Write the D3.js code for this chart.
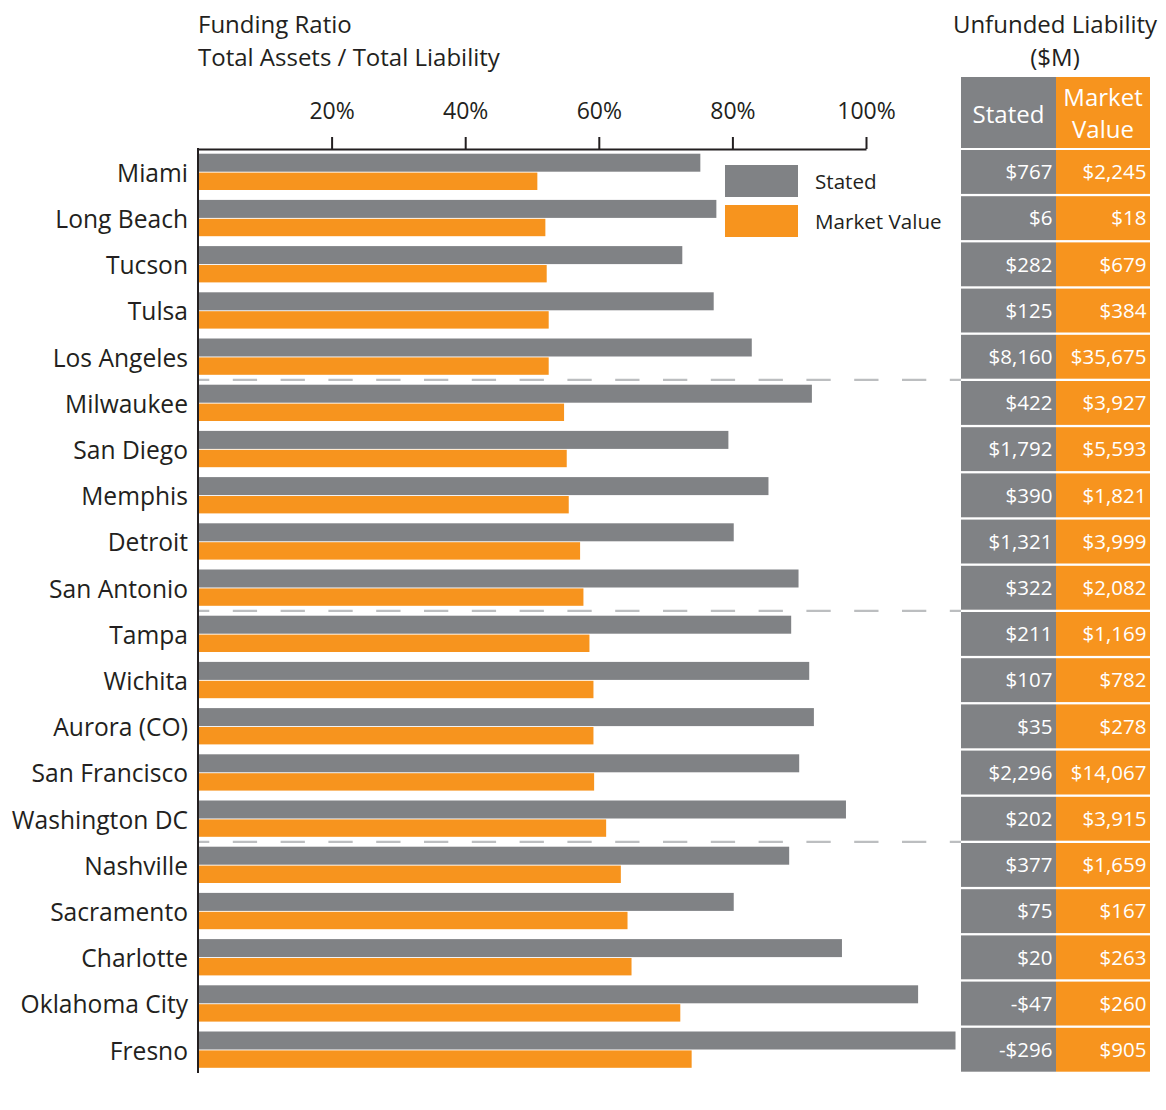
<!DOCTYPE html>
<html>
<head>
<meta charset="utf-8">
<script src="https://cdn.jsdelivr.net/npm/d3@7"></script>
<style>
  html, body { margin: 0; padding: 0; background: #fff; }
  svg { display: block; font-family: "Open Sans", "Noto Sans", sans-serif; }
</style>
</head>
<body>
<svg id="chart" width="1166" height="1110"></svg>
<script>
const cities = ["Miami","Long Beach","Tucson","Tulsa","Los Angeles","Milwaukee","San Diego","Memphis","Detroit","San Antonio","Tampa","Wichita","Aurora (CO)","San Francisco","Washington DC","Nashville","Sacramento","Charlotte","Oklahoma City","Fresno"];
const statedRatio = [75.2,77.6,72.5,77.2,82.9,91.9,79.4,85.4,80.2,89.9,88.8,91.5,92.2,90.0,97.0,88.5,80.2,96.4,107.8,113.4];
const marketRatio = [50.8,52.0,52.2,52.5,52.5,54.8,55.2,55.5,57.2,57.7,58.6,59.2,59.2,59.3,61.1,63.3,64.3,64.9,72.2,73.9];
const statedUnfunded = [767,6,282,125,8160,422,1792,390,1321,322,211,107,35,2296,202,377,75,20,-47,-296];
const marketUnfunded = [2245,18,679,384,35675,3927,5593,1821,3999,2082,1169,782,278,14067,3915,1659,167,263,260,905];
const tickValues = [20,40,60,80,100];
const groupBreaks = [5,10,15];
const seriesNames = ["Stated","Market Value"];

const GRAY = "#808285", ORANGE = "#F7941E", INK = "#231f20", DASH = "#bcbec0";

const svg = d3.select("#chart");
const x = d3.scaleLinear().domain([0,100]).range([198, 866]);
const y = d3.scaleBand().domain(cities).range([150, 1074]).paddingInner(0).paddingOuter(0);
const bw = y.bandwidth();

// Titles
const t1 = svg.append("text").attr("x",198).attr("fill",INK).style("font-size","24px");
t1.append("tspan").attr("x",198).attr("y",33).text("Funding Ratio");
t1.append("tspan").attr("x",198).attr("y",65.5).text("Total Assets / Total Liability");

const t2 = svg.append("text").attr("text-anchor","middle").attr("fill",INK).style("font-size","24px");
t2.append("tspan").attr("x",1055).attr("y",33).text("Unfunded Liability");
t2.append("tspan").attr("x",1055).attr("y",65.5).text("($M)");

// Dashed group separators
svg.append("g").selectAll("line").data(groupBreaks).join("line")
  .attr("x1",198).attr("x2",961)
  .attr("y1",d=>y(cities[d])-1.2).attr("y2",d=>y(cities[d])-1.2)
  .attr("stroke",DASH).attr("stroke-width",2.2)
  .attr("stroke-dasharray","24.3 23.5").attr("stroke-dashoffset",13);

// Bars
const rows = svg.append("g").selectAll("g").data(cities).join("g");
rows.append("rect")
  .attr("x",x(0)).attr("y",d=>y(d)+3.7)
  .attr("width",(d,i)=>x(statedRatio[i])-x(0)).attr("height",18)
  .attr("fill",GRAY);
rows.append("rect")
  .attr("x",x(0)).attr("y",d=>y(d)+22.6)
  .attr("width",(d,i)=>x(marketRatio[i])-x(0)).attr("height",17.4)
  .attr("fill",ORANGE);

// City labels
svg.append("g").selectAll("text").data(cities).join("text")
  .attr("x",188).attr("y",d=>y(d)+bw/2).attr("dy","0.35em")
  .attr("text-anchor","end").attr("fill",INK).style("font-size","24.6px")
  .text(d=>d);

// Top axis
const axis = d3.axisTop(x).tickValues(tickValues).tickFormat(d=>d+"%").tickSize(12).tickSizeOuter(0).tickPadding(18);
const ag = svg.append("g").attr("transform","translate(0,149)").call(axis);
ag.select(".domain").attr("stroke",INK).attr("stroke-width",2);
ag.selectAll(".tick line").attr("stroke",INK).attr("stroke-width",2);
ag.selectAll(".tick text").attr("fill",INK).style("font-size","23px").style("font-family","'Open Sans', sans-serif");

// Left vertical axis line
svg.append("line").attr("x1",198).attr("x2",198).attr("y1",148).attr("y2",1073)
  .attr("stroke",INK).attr("stroke-width",2);

// Legend
const lg = svg.append("g");
const legendColors = [GRAY, ORANGE];
seriesNames.forEach((n,i)=>{
  lg.append("rect").attr("x",725).attr("y",165+i*40).attr("width",73).attr("height",32).attr("fill",legendColors[i]);
  lg.append("text").attr("x",815).attr("y",188.5+i*40).attr("fill",INK).style("font-size","20.6px").text(n);
});

// Table
const colX = [961, 1056, 1150];
const tbl = svg.append("g");
tbl.append("rect").attr("x",colX[0]).attr("y",77).attr("width",colX[1]-colX[0]).attr("height",71).attr("fill",GRAY);
tbl.append("rect").attr("x",colX[1]).attr("y",77).attr("width",colX[2]-colX[1]).attr("height",71).attr("fill",ORANGE);
tbl.append("text").attr("x",(colX[0]+colX[1])/2).attr("y",122.5).attr("text-anchor","middle")
  .attr("fill","#fff").style("font-size","24px").text("Stated");
const mh = tbl.append("text").attr("text-anchor","middle").attr("fill","#fff").style("font-size","24px");
mh.append("tspan").attr("x",(colX[1]+colX[2])/2).attr("y",106).text("Market");
mh.append("tspan").attr("x",(colX[1]+colX[2])/2).attr("y",138).text("Value");

const fmt = d3.format(",");
const money = v => (v<0 ? "-$" : "$") + fmt(Math.abs(v));

const trow = tbl.selectAll("g.row").data(cities).join("g").attr("class","row");
trow.append("rect").attr("x",colX[0]).attr("y",d=>y(d)).attr("width",colX[1]-colX[0]).attr("height",bw-2.3).attr("fill",GRAY);
trow.append("rect").attr("x",colX[1]).attr("y",d=>y(d)).attr("width",colX[2]-colX[1]).attr("height",bw-2.3).attr("fill",ORANGE);
trow.append("text").attr("x",colX[1]-3.5).attr("y",d=>y(d)+(bw-2.3)/2).attr("dy","0.35em")
  .attr("text-anchor","end").attr("fill","#fff").style("font-size","20.5px")
  .text((d,i)=>money(statedUnfunded[i]));
trow.append("text").attr("x",colX[2]-3.5).attr("y",d=>y(d)+(bw-2.3)/2).attr("dy","0.35em")
  .attr("text-anchor","end").attr("fill","#fff").style("font-size","20.5px")
  .text((d,i)=>money(marketUnfunded[i]));
</script>
</body>
</html>
